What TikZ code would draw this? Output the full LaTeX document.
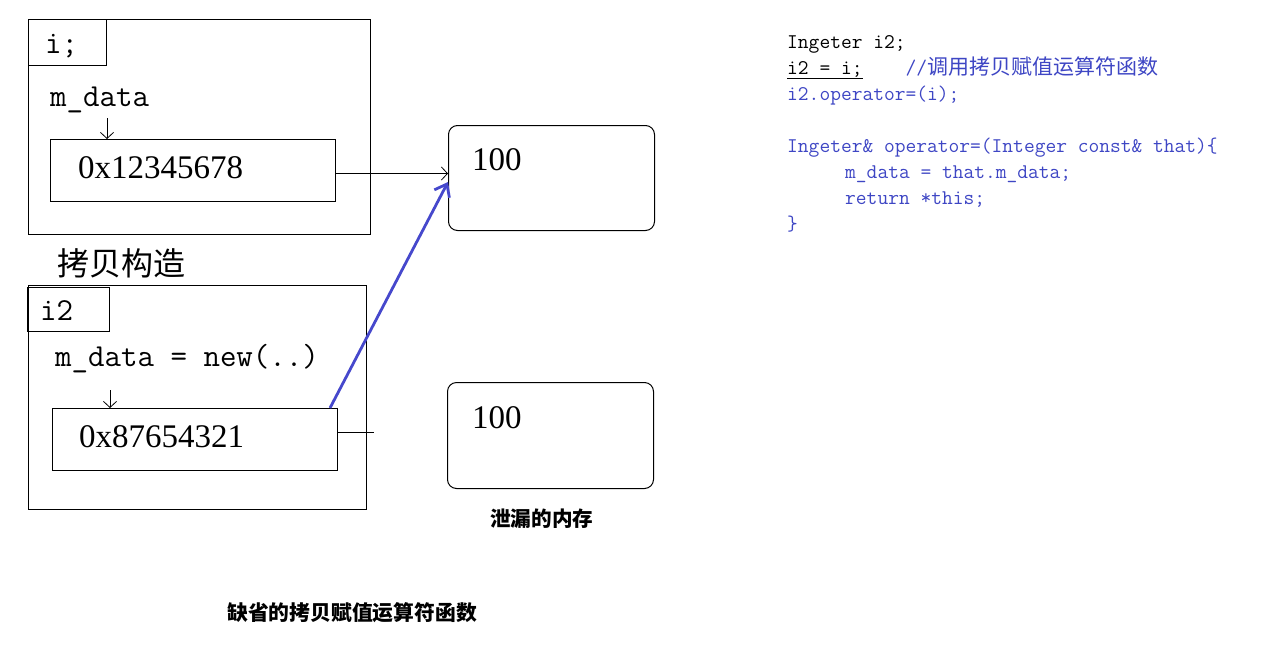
\documentclass[tikz,border=0pt]{standalone}
\usepackage{fontspec}
\setmainfont{Liberation Serif}
\newfontfamily\cjk{Noto Sans CJK SC}
\usepackage{tikz}
\usetikzlibrary{arrows.meta,positioning,calc}
\definecolor{codeBlue}{RGB}{62,70,196}
\definecolor{arrowBlue}{RGB}{70,72,204}
\tikzstyle{objBox}=[draw,line width=1pt,inner sep=0pt,anchor=north west]
\tikzstyle{heapBox}=[draw,line width=1pt,rounded corners=9pt,inner sep=0pt,anchor=north west]
\tikzstyle{monoText}=[font=\fontsize{32}{36}\selectfont\ttfamily,inner sep=0pt,anchor=base west]
\tikzstyle{numText}=[font=\fontsize{33}{36}\selectfont,inner sep=0pt,anchor=base west]
\tikzstyle{zhText}=[font=\cjk\fontsize{32}{36}\selectfont,inner sep=0pt,anchor=west]
\tikzstyle{zhNote}=[font=\cjk\bfseries\fontsize{20.6}{24}\selectfont,inner sep=0pt,anchor=west]
\tikzstyle{codeText}=[font=\fontsize{20.9}{26}\selectfont\ttfamily,inner sep=0pt,align=left,anchor=north west]
\tikzstyle{thinArrow}=[line width=0.8pt,-{Straight Barb[length=6pt,width=13pt]}]
\tikzstyle{blueArrow}=[draw=arrowBlue,line width=2.8pt,-{Straight Barb[length=11pt,width=17pt]}]
\begin{document}
\begin{tikzpicture}[x=1pt,y=-1pt]
  \useasboundingbox (0,0) rectangle (1271,667);
  % object i
  \node [objBox,minimum width=342pt,minimum height=215pt] (obj1) at (28,19) {};
  \node [objBox,minimum width=78pt,minimum height=46pt] (tag1) at (28,19) {};
  \node [monoText] (name1) at (45,53) {i;};
  \node [monoText] (mdata1) at (50,106) {m\_data};
  \node [objBox,minimum width=285pt,minimum height=62pt] (addr1) at (50,139) {};
  \node [numText] (hex1) at (78,178) {0x12345678};
  % object i2
  \node [zhText] (copyTitle) at (57,263) {拷贝构造};
  \node [objBox,minimum width=338pt,minimum height=224pt] (obj2) at (28,285) {};
  \node [objBox,minimum width=82pt,minimum height=44pt] (tag2) at (27,287) {};
  \node [monoText] (name2) at (40,320) {i2};
  \node [monoText] (mdata2) at (55,366) {m\_data = new(..)};
  \node [objBox,minimum width=285pt,minimum height=62pt] (addr2) at (52,408) {};
  \node [numText] (hex2) at (79,447) {0x87654321};
  % heap blocks
  \node [heapBox,minimum width=206pt,minimum height=105pt] (heap1) at (448,125) {};
  \node [numText] (val1) at (472,170) {100};
  \node [heapBox,minimum width=206pt,minimum height=106pt] (heap2) at (447,382) {};
  \node [numText] (val2) at (472,428) {100};
  \node [zhNote] (leak) at (490,519) {泄漏的内存};
  \node [zhNote,font=\cjk\bfseries\fontsize{20.8}{24}\selectfont] (caption) at (227,613) {缺省的拷贝赋值运算符函数};
  % code
  \node [codeText] (code) at (787,35) {Ingeter i2;\\
    \underline{i2 = i;}\ \ \ \ \textcolor{codeBlue}{//{\cjk\fontsize{21}{26}\selectfont 调用拷贝赋值运算符函数}}\\
    \textcolor{codeBlue}{i2.operator=(i);}\\
    \mbox{}\\
    \textcolor{codeBlue}{Ingeter\& operator=(Integer const\& that)\{}\\
    \hspace*{58pt}\textcolor{codeBlue}{m\_data = that.m\_data;}\\
    \hspace*{58pt}\textcolor{codeBlue}{return *this;}\\
    \textcolor{codeBlue}{\}}};
  % pointers
  \draw [thinArrow] ([xshift=57pt,yshift=21pt]addr1.north west) -- ([xshift=57pt]addr1.north west);
  \draw [thinArrow] ([xshift=58pt,yshift=18pt]addr2.north west) -- ([xshift=58pt]addr2.north west);
  \draw [thinArrow] ([yshift=-3pt]addr1.east) -- ([yshift=-3pt]addr1.east -| heap1.west);
  \coordinate (stub) at (374,432);
  \draw [line width=0.8pt] (addr2.east |- stub) -- (stub);
  \draw [blueArrow] ([xshift=-8pt]addr2.north east) -- ([yshift=-4pt]heap1.west);
\end{tikzpicture}
\end{document}
